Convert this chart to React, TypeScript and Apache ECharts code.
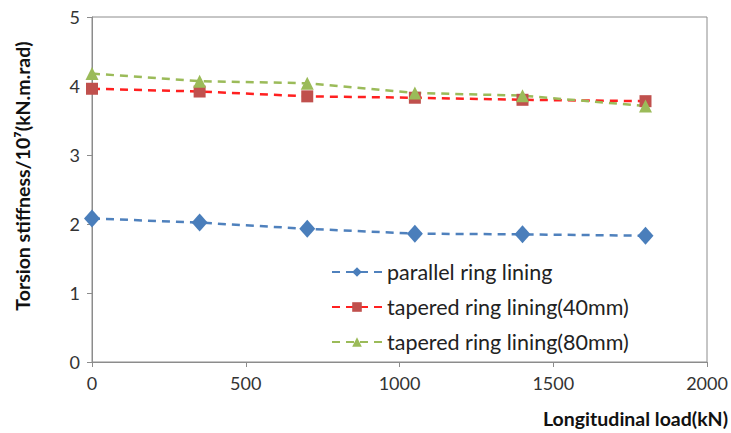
import React, { useEffect, useRef } from "react";
import * as echarts from "echarts";

const loads = [0, 350, 700, 1050, 1400, 1800];
const parallel = [2.08, 2.02, 1.93, 1.86, 1.85, 1.83];
const tapered40 = [3.96, 3.92, 3.85, 3.83, 3.8, 3.78];
const tapered80 = [4.18, 4.07, 4.04, 3.9, 3.86, 3.71];
const seriesNames = [
  "parallel ring lining",
  "tapered ring lining(40mm)",
  "tapered ring lining(80mm)",
];
const yTitle = "Torsion stiffness/10⁷(kN.m.rad)";
const xTitle = "Longitudinal load(kN)";

const FONT = "Lato, 'Open Sans', sans-serif";

export default function App() {
  const ref = useRef<HTMLDivElement>(null);
  useEffect(() => {
    if (!ref.current) return;
    const chart = echarts.init(ref.current, undefined, { renderer: "svg" });
    const mk = (vals: number[]) => loads.map((x, i) => [x, vals[i]]);
    chart.setOption({
      animation: false,
      backgroundColor: "#fff",
      grid: {
        left: 92,
        right: 24,
        top: 17,
        bottom: 71,
        show: true,
        borderColor: "#8c8c8c",
        borderWidth: 1,
      },
      graphic: [
        {
          type: "text",
          x: 22,
          y: 176,
          rotation: Math.PI / 2,
          style: {
            text: yTitle,
            fontFamily: FONT,
            fontSize: 19.5,
            fontWeight: "bold",
            fill: "#111",
            align: "center",
            verticalAlign: "middle",
          },
        },
        {
          type: "text",
          x: 728,
          y: 418,
          style: {
            text: xTitle,
            fontFamily: FONT,
            fontSize: 19.5,
            fontWeight: "bold",
            fill: "#111",
            align: "right",
            verticalAlign: "middle",
          },
        },
      ],
      legend: {
        orient: "vertical",
        left: 326,
        top: 256,
        itemGap: 13,
        itemWidth: 50,
        itemHeight: 12,
        textStyle: { fontFamily: FONT, fontSize: 21.5, color: "#222" },
        data: seriesNames,
      },
      xAxis: {
        type: "value",
        min: 0,
        max: 2000,
        interval: 500,
        axisLine: { lineStyle: { color: "#8c8c8c" } },
        axisTick: { show: true, inside: false, length: 5, lineStyle: { color: "#8c8c8c" } },
        axisLabel: {
          fontFamily: FONT,
          fontSize: 18,
          color: "#333",
          margin: 12,
          formatter: (v: number) => String(v),
        },
        splitLine: { show: false },
      },
      yAxis: {
        type: "value",
        min: 0,
        max: 5,
        interval: 1,
        axisLine: { show: true, lineStyle: { color: "#8c8c8c" } },
        axisTick: { show: true, inside: false, length: 5, lineStyle: { color: "#8c8c8c" } },
        axisLabel: { fontFamily: FONT, fontSize: 18, color: "#333", margin: 12 },
        splitLine: { show: false },
      },
      series: [
        {
          name: seriesNames[0],
          type: "line",
          data: mk(parallel),
          symbol: "diamond",
          symbolSize: [16, 18],
          itemStyle: { color: "#4a7ebb" },
          lineStyle: { color: "#4f81bd", width: 2.5, type: [8, 6] },
        },
        {
          name: seriesNames[1],
          type: "line",
          data: mk(tapered40),
          symbol: "rect",
          symbolSize: 12,
          itemStyle: { color: "#c0504d" },
          lineStyle: { color: "#ff2020", width: 2.5, type: [8, 6] },
        },
        {
          name: seriesNames[2],
          type: "line",
          data: mk(tapered80),
          symbol: "triangle",
          symbolSize: 13,
          itemStyle: { color: "#9bbb59" },
          lineStyle: { color: "#9bbb59", width: 2.5, type: [8, 6] },
        },
      ],
    });
    return () => chart.dispose();
  }, []);
  return <div ref={ref} style={{ width: 731, height: 433, position: "absolute", left: 0, top: 0 }} />;
}
